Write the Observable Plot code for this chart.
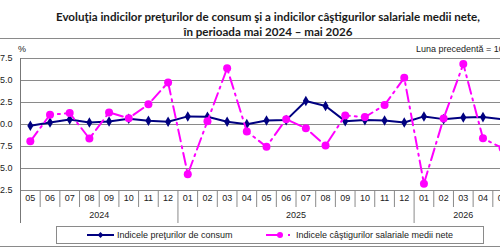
<!DOCTYPE html>
<html>
<head>
<meta charset="utf-8">
<script src="https://cdn.jsdelivr.net/npm/d3@7"></script>
<script src="https://cdn.jsdelivr.net/npm/@observablehq/plot@0.6"></script>
<style>
  html, body { margin: 0; padding: 0; background: #fff; }
  #wrap { position: relative; width: 500px; height: 250px; overflow: hidden; background: #fff;
          font-family: "Liberation Sans", Arial, sans-serif; color: #222; }
  #title { position: absolute; left: 0; top: 9px; width: 536px; text-align: center;
           font-family: Lato, "Liberation Sans", sans-serif; font-weight: 700; font-size: 11.6px;
           line-height: 15px; color: #1a1a1a; white-space: nowrap; }
  .hline { position: absolute; left: 0; width: 500px; height: 0; border-top: 1px solid #8a8a8a; }
  #chart { position: absolute; left: 0; top: 38px; }
  #chart svg { max-width: none; }
  .note { position: absolute; font-size: 9px; color: #222; white-space: nowrap; }
  #legend { position: absolute; left: 56px; top: 226px; width: 426px; height: 16px;
            border: 1px solid #8a8a8a; font-size: 9px; }
  .item { position: absolute; top: 0; height: 16px; display: flex; align-items: center; white-space: nowrap; }
  .item svg { display: block; margin-right: 3px; }
</style>
</head>
<body>
<div id="wrap">
  <div id="title">Evoluţia indicilor preţurilor de consum şi a indicilor câştigurilor salariale medii nete,<br>în perioada mai 2024 – mai 2026</div>
  <div class="hline" style="top:38px"></div>
  <div class="hline" style="top:246px"></div>
  <div id="chart"></div>
  <div class="note" style="left:18px; top:44px;">%</div>
  <div class="note" style="left:416px; top:44px;">Luna precedentă = 100</div>
  <div id="legend"></div>
</div>
<script>
// Months shown on the x axis (mai 2024 – mai 2026)
const months = ["05","06","07","08","09","10","11","12",
                "01","02","03","04","05","06","07","08","09","10","11","12",
                "01","02","03","04","05"];
const years = ["2024", "2025", "2026"];
const yearStart = [0, 8, 20];
const yearEnd = [8, 20, 25];

// Indicele preţurilor de consum (luna precedentă = 100)
const cpi = [99.85, 100.23, 100.57, 100.23, 100.34, 100.65, 100.42, 100.31,
             100.92, 100.88, 100.31, 100.04, 100.46, 100.50, 102.67, 102.10, 100.38, 100.50, 100.46, 100.23,
             100.92, 100.61, 100.80, 100.84, 100.60];

// Indicele câştigurilor salariale medii nete (luna precedentă = 100)
const wages = [98.09, 101.11, 101.30, 98.40, 101.37, 100.72, 102.29, 104.78,
               94.35, 100.38, 106.38, 99.20, 97.48, 100.61, 99.58, 97.60, 101.03, 100.84, 102.21, 105.30,
               93.28, 100.69, 106.87, 98.43, 97.30];

const yTicks = [92.5, 95, 97.5, 100, 102.5, 105, 107.5];

const cpiColor = "#000080";
const wageColor = "#ff00ff";
const gridColor = "#8a8a8a";
const dash = "12,5,2,5";

const width = 520, height = 208;
const marginTop = 20, marginBottom = 56, marginLeft = 20, marginRight = 8;
const innerH = height - marginTop - marginBottom;

const cpiData = cpi.map((v, i) => ({i: i + 0.5, v}));
const wageData = wages.map((v, i) => ({i: i + 0.5, v}));
const monthData = months.map((m, i) => ({i: i + 0.5, m}));
const yearData = years.map((y, k) => ({x: (yearStart[k] + yearEnd[k]) / 2, y}));
const innerBounds = d3.range(1, months.length).filter(b => !yearStart.includes(b));
const yearBounds = yearStart;

const plot = Plot.plot({
  width, height, marginTop, marginBottom, marginLeft, marginRight,
  style: {fontFamily: "'Liberation Sans', Arial, sans-serif", fontSize: "9px", color: "#222", overflow: "visible"},
  x: {domain: [0, months.length], axis: null},
  y: {domain: [92.5, 107.5], axis: null},
  marks: [
    Plot.ruleY(yTicks, {stroke: gridColor, strokeWidth: 1}),
    // separators between month labels
    Plot.ruleX(innerBounds, {x: d => d, stroke: gridColor, insetTop: innerH, insetBottom: -17}),
    // separators between years, and the left axis line
    Plot.ruleX(yearBounds.filter(b => b > 0), {x: d => d, stroke: gridColor, insetTop: innerH, insetBottom: -33}),
    Plot.ruleX([0], {x: d => d, stroke: "#777", insetBottom: -33}),
    Plot.text(yTicks, {y: d => d, text: d => d.toFixed(1), frameAnchor: "left", textAnchor: "end", dx: -8, fill: "#222"}),
    Plot.text(monthData, {x: "i", text: "m", frameAnchor: "bottom", dy: 10, fill: "#222"}),
    Plot.text(yearData, {x: "x", text: "y", frameAnchor: "bottom", dy: 27, fill: "#222"}),
    Plot.line(cpiData, {x: "i", y: "v", stroke: cpiColor, strokeWidth: 2}),
    Plot.dot(cpiData, {x: "i", y: "v", symbol: "diamond", r: 3.2, fill: cpiColor}),
    Plot.line(wageData, {x: "i", y: "v", stroke: wageColor, strokeWidth: 2, strokeDasharray: dash}),
    Plot.dot(wageData, {x: "i", y: "v", r: 4, fill: wageColor})
  ]
});
document.getElementById("chart").appendChild(plot);

// Legend
const legend = document.getElementById("legend");
function swatch(w, color, dasharray, marker) {
  const svg = d3.create("svg").attr("width", w).attr("height", 10);
  svg.append("line").attr("x1", 0).attr("x2", w).attr("y1", 5).attr("y2", 5)
    .attr("stroke", color).attr("stroke-width", 2).attr("stroke-dasharray", dasharray);
  if (marker === "diamond") {
    svg.append("path").attr("d", d3.symbol(d3.symbolDiamond2, 22)()).attr("transform", `translate(${w / 2},5)`).attr("fill", color);
  } else {
    svg.append("circle").attr("cx", w - 13).attr("cy", 5).attr("r", 3).attr("fill", color);
  }
  return svg.node();
}
const items = [
  {left: 30, w: 27, color: cpiColor, dasharray: null, marker: "diamond", label: "Indicele preţurilor de consum"},
  {left: 209, w: 27, color: wageColor, dasharray: "16,6,2,100", marker: "circle", label: "Indicele câştigurilor salariale medii nete"}
];
for (const it of items) {
  const div = document.createElement("div");
  div.className = "item";
  div.style.left = it.left + "px";
  div.appendChild(swatch(it.w, it.color, it.dasharray, it.marker));
  const span = document.createElement("span");
  span.textContent = it.label;
  div.appendChild(span);
  legend.appendChild(div);
}
</script>
</body>
</html>
